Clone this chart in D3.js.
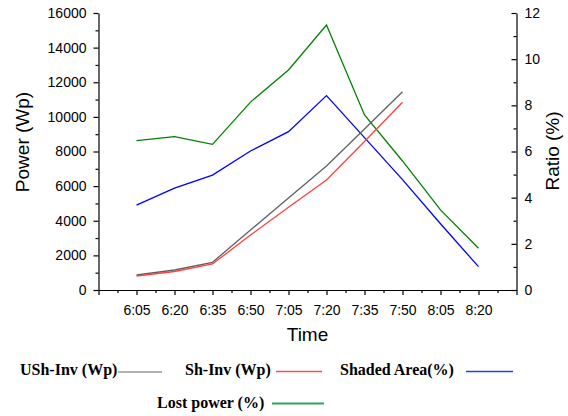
<!DOCTYPE html>
<html><head><meta charset="utf-8">
<script src="https://cdn.jsdelivr.net/npm/d3@7/dist/d3.min.js"></script>
<style>body{margin:0;background:#fff}svg{display:block}</style>
</head><body>
<script>
const categories = ["6:05","6:20","6:35","6:50","7:05","7:20","7:35","7:50","8:05","8:20"];
const ushInv = [866,1155,1600,3466,5314,7162,9299,11454];
const shInv = [809,1069,1502,3177,4777,6354,8577,10842];
const shadedArea = [3.68,4.41,4.98,6.02,6.86,8.42,6.60,4.78,2.87,1.01];
const lostPower = [6.47,6.64,6.31,8.14,9.53,11.48,7.58,5.59,3.47,1.81];
const powerTicks = [0,2000,4000,6000,8000,10000,12000,14000,16000];
const ratioTicks = [0,2,4,6,8,10,12];

const W=568,H=416;
const svg=d3.select("body").append("svg").attr("width",W).attr("height",H);
const L=98.5,R=516.5,T=13,B=290;
const x=d3.scaleLinear().domain([-1,categories.length]).range([L,R]);
const yL=d3.scaleLinear().domain([0,16000]).range([B,T]);
const yR=d3.scaleLinear().domain([0,12]).range([B,T]);
const font="Arial, 'Liberation Sans', sans-serif";

// axes
function styleAxis(g){g.selectAll("path,line").attr("stroke","#000").attr("stroke-width",1.2);
  g.selectAll("text").attr("font-family",font).attr("font-size",14).attr("fill","#000");}
// minor ticks
const xMinor=d3.range(-1,categories.length+0.01,0.5).filter(v=>v%1!==0);
svg.append("g").attr("transform",`translate(0,${B})`).call(d3.axisBottom(x).tickValues(xMinor).tickSize(3).tickFormat("")).call(styleAxis).select(".domain").remove();
svg.append("g").attr("transform",`translate(${L},0)`).call(d3.axisLeft(yL).tickValues(d3.range(1000,16000,2000)).tickSize(3).tickFormat("")).call(styleAxis).select(".domain").remove();
svg.append("g").attr("transform",`translate(${R},0)`).call(d3.axisLeft(yR).tickValues(d3.range(1,12,2)).tickSize(3).tickFormat("")).call(styleAxis).select(".domain").remove();

const xAx=svg.append("g").attr("transform",`translate(0,${B})`)
  .call(d3.axisBottom(x).tickValues(d3.range(-1,categories.length+1)).tickSize(5).tickSizeOuter(0).tickPadding(10)
  .tickFormat(d=>categories[d]||""));
xAx.call(styleAxis);
svg.append("g").attr("transform",`translate(${L},0)`)
  .call(d3.axisLeft(yL).tickValues(powerTicks).tickSize(5).tickSizeOuter(0).tickPadding(7).tickFormat(d=>d)).call(styleAxis);
const rAx=svg.append("g").attr("transform",`translate(${R},0)`)
  .call(d3.axisLeft(yR).tickValues(ratioTicks).tickSize(5).tickSizeOuter(0).tickFormat(d=>d)).call(styleAxis);
rAx.selectAll("text").attr("text-anchor","start").attr("x",8);

// titles
svg.append("text").attr("transform",`translate(29,142) rotate(-90)`).attr("text-anchor","middle")
  .attr("font-family",font).attr("font-size",19).text("Power (Wp)");
svg.append("text").attr("transform",`translate(559,151) rotate(-90)`).attr("text-anchor","middle")
  .attr("font-family",font).attr("font-size",19).text("Ratio (%)");
svg.append("text").attr("x",307.5).attr("y",341).attr("text-anchor","middle")
  .attr("font-family",font).attr("font-size",19).text("Time");

// lines
function draw(data,ys,color){
  svg.append("path").datum(data).attr("fill","none").attr("stroke",color).attr("stroke-width",1.3)
    .attr("stroke-linejoin","miter")
    .attr("d",d3.line().x((d,i)=>x(i)).y(d=>ys(d)));
}
draw(lostPower,yR,"#008000");
draw(shadedArea,yR,"#0000ff");
draw(ushInv,yL,"#606060");
draw(shInv,yL,"#ff4040");

// legend
const lf="'Times New Roman','Liberation Serif',serif";
const legend=[
  {t:"USh-Inv (Wp)",x:20,y:375,lx1:118,lx2:162,ly:372,c:"#999999",w:1.3},
  {t:"Sh-Inv (Wp)",x:185,y:375,lx1:276,lx2:322,ly:371.5,c:"#ee5555",w:1.3},
  {t:"Shaded Area(%)",x:340,y:375,lx1:466,lx2:513,ly:371.5,c:"#2244dd",w:1.3},
  {t:"Lost power (%)",x:157,y:408,lx1:272,lx2:324,ly:403.5,c:"#33a060",w:2}
];
legend.forEach(d=>{
  svg.append("text").attr("x",d.x).attr("y",d.y).attr("font-family",lf).attr("font-weight","bold")
    .attr("font-size",16).text(d.t);
  svg.append("line").attr("x1",d.lx1).attr("x2",d.lx2).attr("y1",d.ly).attr("y2",d.ly)
    .attr("stroke",d.c).attr("stroke-width",d.w);
});
</script>
</body></html>
